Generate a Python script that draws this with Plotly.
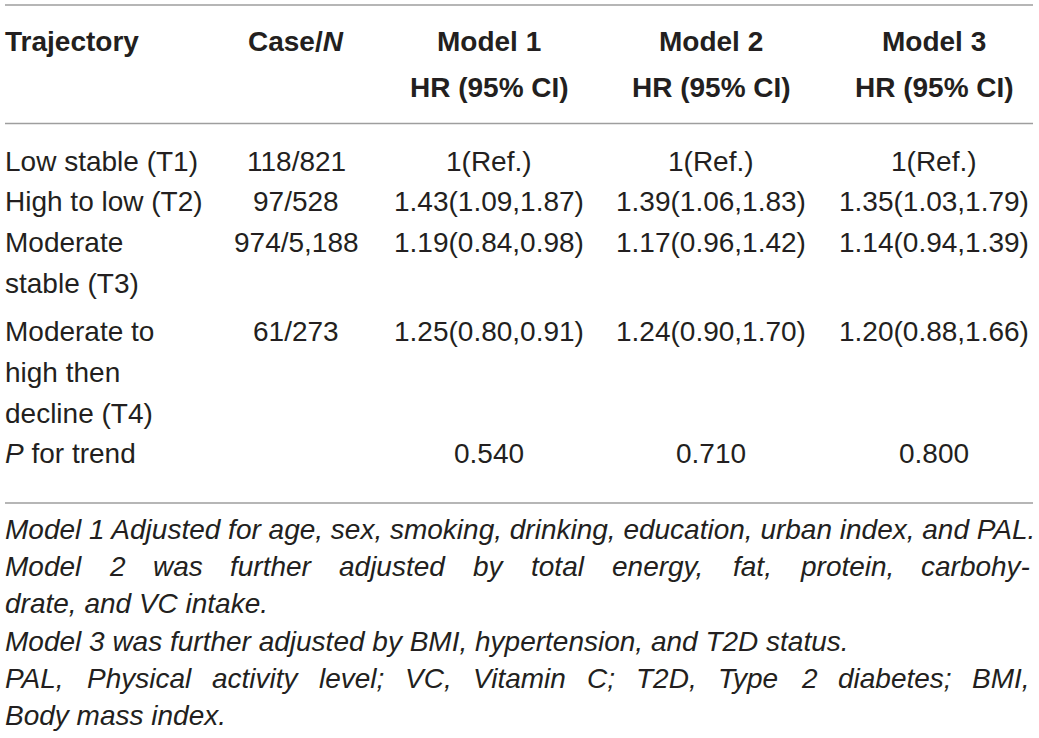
import plotly.graph_objects as go

# table content
header_top = ["<b>Trajectory</b>", "<b>Case/<i>N</i></b>", "<b>Model 1</b>", "<b>Model 2</b>", "<b>Model 3</b>"]
header_sub = ["", "", "<b>HR (95% CI)</b>", "<b>HR (95% CI)</b>", "<b>HR (95% CI)</b>"]
trajectory = ["Low stable (T1)", "High to low (T2)", "Moderate\nstable (T3)", "Moderate to\nhigh then\ndecline (T4)"]
cases = ["118/821", "97/528", "974/5,188", "61/273"]
model1 = ["1(Ref.)", "1.43(1.09,1.87)", "1.19(0.84,0.98)", "1.25(0.80,0.91)"]
model2 = ["1(Ref.)", "1.39(1.06,1.83)", "1.17(0.96,1.42)", "1.24(0.90,1.70)"]
model3 = ["1(Ref.)", "1.35(1.03,1.79)", "1.14(0.94,1.39)", "1.20(0.88,1.66)"]
p_label = "<i>P</i> for trend"
p_trend = ["0.540", "0.710", "0.800"]

# footnote lines, True = justified to full width
footnotes = [
    ("Model 1 Adjusted for age, sex, smoking, drinking, education, urban index, and PAL.", False),
    ("Model 2 was further adjusted by total energy, fat, protein, carbohy-", True),
    ("drate, and VC intake.", False),
    ("Model 3 was further adjusted by BMI, hypertension, and T2D status.", False),
    ("PAL, Physical activity level; VC, Vitamin C; T2D, Type 2 diabetes; BMI,", True),
    ("Body mass index.", False),
]

W, H = 1039, 738
FONT = "Liberation Sans, Arial, Helvetica, sans-serif"
SIZE = 28
INK = "#231f20"
RULE = "#9e9e9e"

col_x = [5, 296, 489, 711, 934]
head_y = [41, 87.5]
row_y = [161, 201, 242, 331]
p_y = 453
line_gap = 41
foot_y0, foot_gap = 529.5, 37.2
foot_left, foot_right = 5, 1030
rules_y = [5, 123.5, 503]

# Arial / Helvetica advance widths (1/1000 em), used for justification
_w = {" ": 278, ",": 278, ".": 278, ";": 278, "-": 333, "(": 333, ")": 333}
_w.update({c: 556 for c in "0123456789"})
_w.update(dict(zip("ABCDEFGHIJKLMNOPQRSTUVWXYZ",
                   [667, 667, 722, 722, 667, 611, 778, 722, 278, 500, 667, 556, 833,
                    722, 778, 667, 778, 722, 667, 611, 722, 667, 944, 667, 667, 611])))
_w.update(dict(zip("abcdefghijklmnopqrstuvwxyz",
                   [556, 556, 500, 556, 556, 278, 556, 556, 222, 222, 500, 222, 833,
                    556, 556, 556, 556, 333, 500, 278, 556, 500, 722, 500, 500, 500])))


def text_width(s):
    return sum(_w.get(c, 556) for c in s) / 1000 * SIZE


fig = go.Figure()


def add_text(x, y, text, anchor="center", italic=False):
    fig.add_annotation(x=x, y=y, xref="x", yref="y", text=text, showarrow=False,
                       xanchor=anchor, yanchor="middle", borderpad=0, borderwidth=0,
                       font=dict(family=FONT, size=SIZE, color=INK,
                                 style="italic" if italic else "normal"))


# header
for i, t in enumerate(header_top):
    add_text(col_x[i], head_y[0], t, "left" if i == 0 else "center")
for i, t in enumerate(header_sub):
    if t:
        add_text(col_x[i], head_y[1], t)

# body
for r, y in enumerate(row_y):
    for k, part in enumerate(trajectory[r].split("\n")):
        add_text(col_x[0], y + k * line_gap, part, "left")
    for c, col in enumerate([cases, model1, model2, model3]):
        add_text(col_x[c + 1], y, col[r])

add_text(col_x[0], p_y, p_label, "left")
for c, v in enumerate(p_trend):
    add_text(col_x[c + 2], p_y, v)

# footnotes
for i, (line, justify) in enumerate(footnotes):
    y = foot_y0 + i * foot_gap
    if not justify:
        add_text(foot_left, y, line, "left", italic=True)
        continue
    words = line.split(" ")
    natural = sum(text_width(w) for w in words)
    gap = (foot_right - foot_left - natural) / (len(words) - 1)
    x = foot_left
    for w in words:
        add_text(x, y, w, "left", italic=True)
        x += text_width(w) + gap

# horizontal rules
for y in rules_y:
    fig.add_shape(type="line", xref="x", yref="y", x0=5, x1=1033, y0=y, y1=y,
                  line=dict(color=RULE, width=1.5))

# axes run in pixels so the layout numbers above
fig.update_layout(
    width=W, height=H,
    margin=dict(l=0, r=0, t=0, b=0),
    paper_bgcolor="white", plot_bgcolor="white",
    showlegend=False,
    xaxis=dict(range=[0, W], visible=False, fixedrange=True),
    yaxis=dict(range=[H, 0], visible=False, fixedrange=True),
)

# drop the browser's default 8px body margin so the figure fills the window
fig.write_html("out.html", config={"displayModeBar": False},
               post_script="document.body.style.margin = '0';")
